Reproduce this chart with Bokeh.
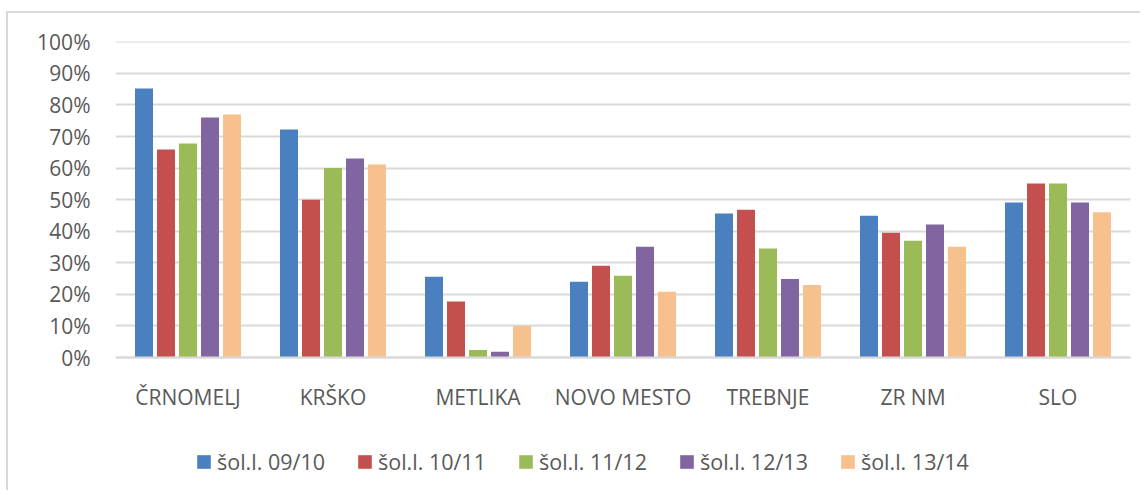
from bokeh.plotting import figure
from bokeh.models import (ColumnDataSource, FactorRange, NumeralTickFormatter,
                          Legend, LegendItem, FixedTicker, Range1d)
from bokeh.transform import dodge
from bokeh.embed import file_html
from bokeh.resources import INLINE

categories = ["ČRNOMELJ", "KRŠKO", "METLIKA", "NOVO MESTO", "TREBNJE", "ZR NM", "SLO"]
series_names = ["šol.l. 09/10", "šol.l. 10/11", "šol.l. 11/12", "šol.l. 12/13", "šol.l. 13/14"]
s0910 = [0.852, 0.722, 0.256, 0.240, 0.456, 0.449, 0.491]
s1011 = [0.659, 0.500, 0.177, 0.291, 0.468, 0.395, 0.551]
s1112 = [0.678, 0.600, 0.024, 0.259, 0.345, 0.370, 0.551]
s1213 = [0.760, 0.630, 0.018, 0.351, 0.249, 0.421, 0.491]
s1314 = [0.770, 0.611, 0.100, 0.208, 0.230, 0.351, 0.460]
yticks = [0.0, 0.1, 0.2, 0.3, 0.4, 0.5, 0.6, 0.7, 0.8, 0.9, 1.0]

colors = ["#4A80C0", "#C4504E", "#9BBB59", "#8065A1", "#F7C18E"]
series = [s0910, s1011, s1112, s1213, s1314]
keys = ["s0", "s1", "s2", "s3", "s4"]

data = {"cat": categories}
for k, s in zip(keys, series):
    data[k] = s
src = ColumnDataSource(data)

# frame spans canvas y 41..485; value 0 sits at y=357, 100% at y=41.3
ppu = 315.7
y_end = (357 - 41) / ppu
y_start = -(485 - 357) / ppu

p = figure(x_range=FactorRange(*categories, range_padding=0), y_range=Range1d(y_start, y_end),
           width=1140, height=490, output_backend="svg", toolbar_location=None,
           min_border_left=115, min_border_right=10, min_border_top=41, min_border_bottom=5)
p.outline_line_color = None
p.background_fill_color = "white"
p.border_fill_color = None
p.styles = {
    "background-image": "linear-gradient(#D9D9D9,#D9D9D9), linear-gradient(#D9D9D9,#D9D9D9)",
    "background-size": "2px 100%, 100% 2px",
    "background-position": "6px 11px, 6px 11px",
    "background-repeat": "no-repeat",
}

pitch = 22 / 145
bw = 18 / 145
items = []
for i, (k, c, name) in enumerate(zip(keys, colors, series_names)):
    r = p.vbar(x=dodge("cat", (i - 2) * pitch, range=p.x_range), top=k, bottom=0, width=bw,
               source=src, fill_color=c, line_color=None)
    items.append(LegendItem(label=name, renderers=[r]))

font = "Open Sans"
tc = "#595959"

p.yaxis.ticker = FixedTicker(ticks=yticks)
p.yaxis.formatter = NumeralTickFormatter(format="0%")
p.yaxis.axis_line_color = None
p.yaxis.major_tick_line_color = None
p.yaxis.minor_tick_line_color = None
p.yaxis.major_tick_out = 0
p.yaxis.major_label_standoff = 25
p.yaxis.major_label_text_font = font
p.yaxis.major_label_text_font_size = "21px"
p.yaxis.major_label_text_color = tc

p.xaxis.fixed_location = 0
p.xaxis.axis_line_color = "#D9D9D9"
p.xaxis.axis_line_width = 2
p.xaxis.major_tick_line_color = None
p.xaxis.major_tick_out = 0
p.xaxis.major_label_standoff = 25
p.xaxis.major_label_text_font = font
p.xaxis.major_label_text_font_size = "21px"
p.xaxis.major_label_text_color = tc

p.xgrid.grid_line_color = None
p.ygrid.ticker = FixedTicker(ticks=yticks)
p.ygrid.grid_line_color = "#D9D9D9"
p.ygrid.grid_line_width = 2

legend = Legend(items=items, orientation="horizontal", location=(80, 9),
                glyph_width=17, glyph_height=17, label_standoff=5, spacing=31,
                padding=0, margin=0, border_line_color=None, background_fill_alpha=0,
                label_text_font=font, label_text_font_size="21.5px", label_text_color=tc)
p.add_layout(legend, "center")

open("out.html", "w").write(file_html(p, INLINE))
